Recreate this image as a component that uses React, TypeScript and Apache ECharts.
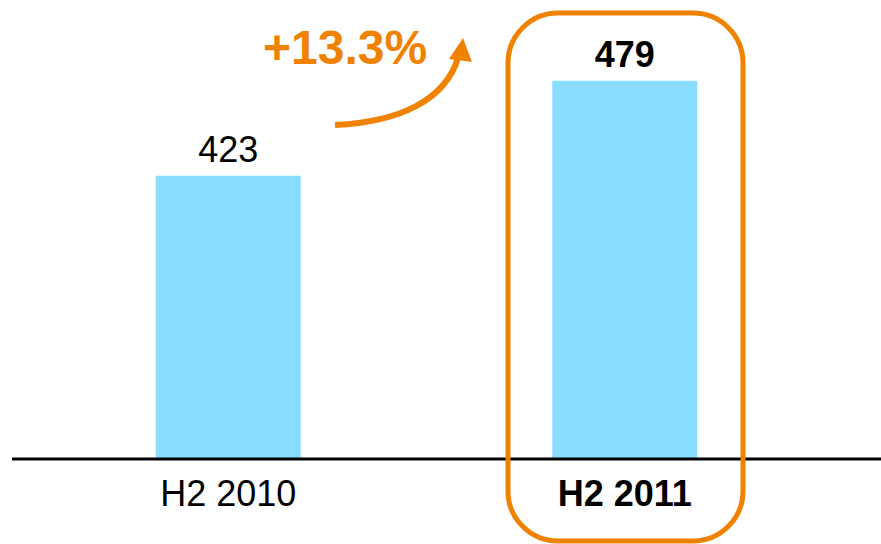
import React, { useEffect, useRef } from "react";
import * as echarts from "echarts";

const categories = ["H2 2010", "H2 2011"];
const values = [423, 479];
const highlightIndex = 1;
const growthLabel = "+13.3%";

const FONT = "'Liberation Sans', Arial, sans-serif";
const ORANGE = "#EF8200";
const BAR = "#89DDFF";

export default function App() {
  const ref = useRef<HTMLDivElement>(null);
  useEffect(() => {
    if (!ref.current) return;
    const chart = echarts.init(ref.current, undefined, { renderer: "svg" });
    chart.setOption({
      animation: false,
      backgroundColor: "#fff",
      grid: { left: 30, right: 58, top: 45, bottom: 85, outerBoundsMode: "none" },
      xAxis: {
        type: "category",
        data: categories.map((c, i) => ({
          value: c,
          textStyle: { fontWeight: i === highlightIndex ? "bold" : "normal" },
        })),
        axisLine: { show: false },
        axisTick: { show: false },
        axisLabel: { color: "#000", fontSize: 36, fontFamily: FONT, margin: 16 },
      },
      yAxis: { type: "value", min: 256, max: 500, show: false, splitLine: { show: false } },
      series: [
        {
          type: "bar",
          barWidth: 145,
          itemStyle: { color: BAR },
          data: values.map((v, i) => ({
            value: v,
            label: i === highlightIndex ? { fontWeight: "bold" } : {},
          })),
          label: {
            show: true,
            position: "top",
            distance: 8,
            color: "#000",
            fontSize: 36,
            fontFamily: FONT,
          },
        },
      ],
      graphic: [
        {
          type: "line",
          z: 100,
          shape: { x1: 12, y1: 459, x2: 881, y2: 459 },
          style: { stroke: "#000", lineWidth: 3 },
        },
        {
          type: "rect",
          z: 100,
          shape: { x: 508, y: 13, width: 235, height: 528, r: 50 },
          style: { stroke: ORANGE, lineWidth: 5, fill: "none" },
        },
        {
          type: "text",
          z: 100,
          x: 263,
          y: 47,
          style: {
            text: growthLabel,
            font: `bold 48px ${FONT}`,
            fill: ORANGE,
            verticalAlign: "middle",
            align: "left",
          },
        },
        {
          type: "bezierCurve",
          z: 100,
          shape: { x1: 335, y1: 125, cpx1: 400, cpy1: 122, cpx2: 445, cpy2: 100, x2: 458, y2: 58 },
          style: { stroke: ORANGE, lineWidth: 6, fill: "none" },
        },
        {
          type: "polygon",
          z: 100,
          shape: { points: [[463, 38], [449, 59], [472, 62]] },
          style: { fill: ORANGE },
        },
      ],
    });
    return () => chart.dispose();
  }, []);
  return (
    <div
      ref={ref}
      style={{ position: "fixed", left: 0, top: 0, width: 881, height: 544, background: "#fff" }}
    />
  );
}
